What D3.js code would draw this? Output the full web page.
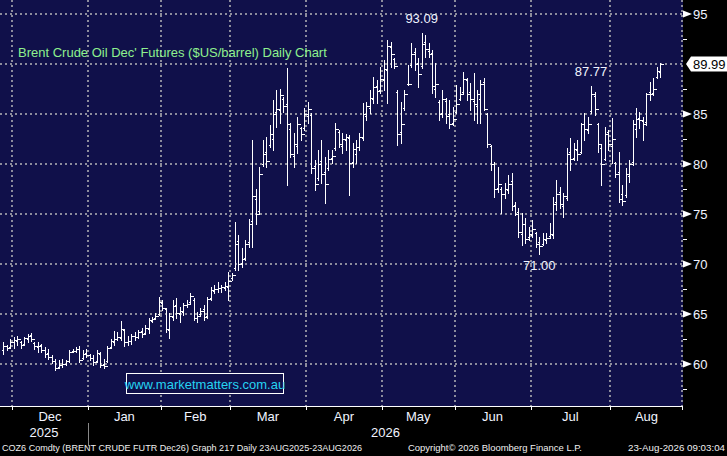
<!DOCTYPE html>
<html>
<head>
<meta charset="utf-8">
<script src="https://cdn.jsdelivr.net/npm/d3@7"></script>
<style>
  html, body { margin: 0; padding: 0; background: #000; }
  svg { display: block; }
</style>
</head>
<body>
<svg id="chart" width="727" height="456"></svg>
<script>
// daily OHLC for Brent Dec26, one entry per trading day (late Nov 2025 -> 21 Aug 2026)
const opens = [
  61.4, 61.8, 61.7, 62.2, 62.3, 62.2, 62.0, 62.5, 62.9, 62.1,
  61.7, 61.9, 61.4, 61.1, 60.7, 60.3, 59.7, 59.9, 60.0, 60.3,
  61.3, 61.3, 61.5, 60.6, 61.1, 60.9, 60.6, 60.3, 61.0, 60.0,
  60.3, 61.7, 62.2, 62.5, 62.6, 63.4, 62.2, 62.3, 62.8, 62.7,
  63.3, 63.1, 63.5, 64.3, 64.6, 65.0, 66.1, 65.5, 63.4, 64.7,
  65.9, 65.0, 65.2, 65.9, 66.2, 66.4, 64.6, 65.0, 65.5, 64.8,
  66.6, 67.3, 67.5, 67.6, 67.6, 67.7, 68.6, 69.6, 72.3, 70.1,
  70.6, 72.2, 74.3, 76.5, 75.3, 80.0, 81.2, 81.9, 82.5, 85.2,
  85.4, 86.5, 86.0, 83.5, 80.8, 81.8, 83.6, 83.6, 84.8, 84.9,
  79.8, 78.6, 80.3, 79.2, 79.6, 80.6, 81.6, 83.2, 81.8, 82.4,
  82.6, 80.2, 81.0, 81.7, 82.6, 84.8, 85.6, 86.5, 87.8, 87.4,
  88.4, 89.4, 91.7, 90.5, 87.2, 83.2, 85.6, 88.0, 89.9, 91.2,
  90.1, 89.8, 92.2, 91.3, 91.1, 87.5, 86.2, 85.1, 86.3, 85.0,
  84.1, 85.2, 86.5, 87.2, 88.4, 87.2, 86.3, 85.8, 86.5, 88.2,
  85.0, 81.8, 80.0, 77.6, 77.5, 77.0, 77.4, 78.3, 75.9, 75.2,
  73.0, 74.0, 72.7, 72.9, 73.1, 72.2, 72.0, 72.4, 72.8, 72.9,
  76.2, 77.2, 75.8, 76.6, 81.2, 80.6, 81.4, 81.2, 84.0, 83.4,
  85.3, 86.8, 84.0, 81.6, 80.5, 83.2, 81.8, 80.1, 79.2, 77.0,
  76.9, 78.8, 80.2, 83.5, 84.6, 84.3, 84.2, 87.2, 87.1, 88.7,
  89.2
];
const highs = [
  62.2, 61.9, 62.5, 62.7, 62.8, 62.3, 62.7, 63.0, 63.1, 62.2,
  62.2, 62.0, 61.7, 61.5, 60.9, 60.5, 60.4, 60.5, 60.4, 61.4,
  61.5, 61.7, 61.8, 61.4, 61.5, 61.0, 60.9, 61.4, 61.2, 60.5,
  61.8, 62.5, 63.3, 63.2, 64.3, 63.5, 62.8, 63.0, 63.2, 63.4,
  63.6, 63.9, 64.6, 64.7, 65.1, 66.7, 66.4, 65.6, 65.1, 66.4,
  66.6, 65.7, 66.1, 66.4, 67.1, 66.6, 65.2, 65.6, 65.9, 66.7,
  67.7, 67.9, 68.2, 67.9, 68.2, 69.2, 69.1, 74.2, 72.9, 71.6,
  72.4, 74.5, 82.4, 77.5, 79.7, 82.4, 82.7, 83.9, 86.4, 87.4,
  87.5, 86.7, 89.6, 84.1, 83.1, 84.7, 83.7, 85.6, 86.2, 85.1,
  80.4, 81.4, 82.4, 80.7, 81.4, 81.4, 84.1, 83.4, 83.1, 83.0,
  82.9, 82.1, 82.4, 83.1, 86.1, 86.2, 87.4, 88.7, 88.4, 89.7,
  90.4, 92.4, 92.2, 90.6, 87.4, 86.2, 87.4, 89.9, 92.1, 91.6,
  90.6, 93.09, 92.9, 92.1, 91.4, 90.1, 86.4, 87.4, 86.6, 86.4,
  85.7, 87.9, 87.7, 89.2, 88.6, 88.1, 89.1, 87.4, 88.4, 88.6,
  85.1, 81.9, 80.2, 79.7, 77.7, 78.1, 78.9, 79.1, 76.2, 75.6,
  75.1, 74.6, 73.7, 74.4, 73.2, 72.7, 73.1, 73.1, 74.1, 76.7,
  78.4, 77.7, 77.1, 81.6, 82.6, 82.1, 82.4, 84.1, 85.1, 84.7,
  87.77, 87.2, 84.1, 81.9, 83.7, 83.4, 84.6, 80.2, 81.2, 77.9,
  79.6, 80.4, 84.4, 85.6, 85.2, 84.7, 87.1, 88.2, 88.6, 89.7,
  90.1
];
const lows = [
  61.0, 61.4, 61.7, 61.6, 61.9, 61.6, 61.9, 62.2, 62.3, 61.5,
  61.2, 61.2, 60.7, 60.5, 60.1, 59.4, 59.6, 59.7, 59.9, 60.2,
  61.2, 61.2, 60.2, 60.5, 60.7, 60.4, 59.9, 60.2, 59.7, 59.6,
  60.2, 61.6, 61.9, 62.4, 62.4, 61.8, 61.9, 62.0, 62.4, 62.6,
  62.7, 63.0, 63.1, 64.2, 64.5, 64.9, 65.4, 63.2, 62.6, 64.4,
  64.6, 64.2, 64.9, 65.7, 66.1, 64.4, 64.2, 64.9, 64.4, 64.6,
  66.4, 67.1, 67.2, 67.2, 67.4, 66.4, 68.4, 69.4, 69.4, 69.7,
  70.4, 71.7, 71.7, 74.0, 75.1, 79.8, 79.7, 81.7, 81.4, 83.7,
  84.1, 85.2, 77.9, 80.7, 79.7, 81.1, 82.4, 83.4, 84.1, 79.1,
  77.4, 78.4, 78.1, 76.1, 79.4, 80.1, 81.4, 81.7, 81.1, 81.4,
  76.9, 79.7, 80.1, 81.4, 82.4, 84.4, 85.1, 86.1, 86.1, 87.1,
  87.4, 86.1, 89.7, 89.6, 81.9, 82.1, 85.4, 87.9, 89.7, 89.4,
  87.7, 89.6, 90.7, 90.7, 87.1, 86.7, 84.4, 84.7, 84.1, 83.6,
  83.9, 85.1, 86.4, 87.1, 86.4, 85.4, 84.4, 84.1, 84.1, 85.4,
  81.7, 79.4, 76.7, 77.2, 75.1, 76.6, 77.1, 75.4, 74.9, 72.7,
  71.9, 72.1, 72.4, 72.7, 71.7, 71.0, 71.9, 72.1, 72.6, 72.6,
  75.4, 75.6, 74.7, 76.4, 79.4, 80.4, 80.4, 81.1, 82.4, 83.1,
  85.1, 84.9, 81.2, 77.9, 80.4, 81.4, 80.1, 78.7, 76.2, 75.9,
  76.7, 78.2, 79.9, 82.7, 83.6, 82.4, 83.9, 86.4, 86.9, 88.6,
  88.7
];
const closes = [
  61.8, 61.6, 62.2, 62.4, 62.5, 61.9, 62.6, 62.8, 62.5, 61.8,
  61.8, 61.4, 61.0, 60.7, 60.3, 59.6, 59.9, 60.0, 60.3, 61.2,
  61.3, 61.5, 60.4, 61.0, 60.9, 60.6, 60.2, 61.1, 59.9, 59.8,
  61.6, 62.3, 62.5, 62.7, 63.5, 62.2, 62.3, 62.8, 62.7, 63.2,
  63.0, 63.6, 64.4, 64.5, 64.8, 66.2, 65.6, 63.5, 64.8, 65.8,
  65.1, 65.3, 65.9, 66.0, 66.8, 64.6, 64.8, 65.3, 64.7, 66.5,
  67.4, 67.5, 67.6, 67.7, 67.8, 68.3, 68.9, 72.0, 70.0, 70.5,
  72.0, 74.0, 76.8, 75.0, 79.0, 81.0, 80.3, 83.0, 85.0, 85.5,
  86.9, 85.8, 84.0, 81.0, 82.0, 84.0, 83.0, 85.0, 85.5, 79.6,
  78.0, 80.0, 79.0, 78.0, 80.5, 80.8, 83.5, 82.0, 82.5, 82.7,
  80.1, 81.5, 81.7, 82.7, 85.0, 85.8, 86.6, 87.7, 87.3, 88.5,
  89.5, 91.8, 91.0, 89.8, 83.0, 84.0, 87.0, 88.0, 91.0, 90.0,
  89.0, 92.0, 91.5, 91.0, 87.8, 88.0, 85.0, 86.5, 84.8, 84.0,
  84.5, 86.0, 87.0, 88.5, 87.0, 86.5, 86.0, 87.0, 88.0, 85.5,
  82.0, 80.0, 77.5, 78.0, 77.0, 77.5, 78.0, 75.8, 75.0, 73.2,
  74.0, 72.5, 73.0, 73.5, 72.0, 71.8, 72.5, 72.6, 73.0, 76.0,
  77.0, 76.0, 76.8, 81.0, 80.5, 81.5, 81.0, 84.0, 83.5, 84.0,
  87.0, 85.5, 82.0, 80.0, 83.0, 82.0, 82.5, 79.0, 76.5, 76.3,
  79.0, 80.0, 84.0, 84.5, 84.4, 84.0, 87.0, 87.0, 87.5, 89.3,
  89.99
];

// first trading day (bar index) of each month, and month labels
const monthStarts = [3, 25, 46, 66, 88, 110, 131, 153, 176];
const monthLabels = ['Dec', 'Jan', 'Feb', 'Mar', 'Apr', 'May', 'Jun', 'Jul', 'Aug'];
const yearLabels = ['2025', '2026'];
const priceTicks = [60, 65, 70, 75, 80, 85, 90, 95];
const minorTicks = [57.5, 62.5, 67.5, 72.5, 77.5, 82.5, 87.5, 92.5];

// labelled highs / lows
const callouts = [
  { idx: 121, value: 93.09, side: 'above' },
  { idx: 170, value: 87.77, side: 'above' },
  { idx: 155, value: 71.00, side: 'below' }
];

const W = 727, H = 456;
const plotR = 683, plotB = 406;
const font = '"Liberation Sans", Arial, sans-serif';
const bg = '#10104a';

const svg = d3.select('#chart');
svg.append('rect').attr('width', W).attr('height', H).attr('fill', '#000');
svg.append('rect').attr('width', plotR).attr('height', plotB).attr('fill', bg);

const x = d3.scaleLinear().domain([-0.98, 196.6]).range([0, plotR]);
const y = d3.scaleLinear().domain([55.8, 96.4]).range([plotB, 0]);
const snap = v => Math.round(v) + 0.5;

// grid
const grid = svg.append('g')
  .attr('stroke', '#8c8c9c').attr('stroke-width', 1.5)
  .attr('stroke-dasharray', '2,3').attr('shape-rendering', 'crispEdges');
grid.selectAll('line.h')
  .data(priceTicks)
  .enter().append('line')
    .attr('class', 'h')
    .attr('x1', 0).attr('x2', plotR)
    .attr('y1', d => Math.round(y(d))).attr('y2', d => Math.round(y(d)));
grid.selectAll('line.v')
  .data(monthStarts.concat([null]))
  .enter().append('line')
    .attr('class', 'v')
    .attr('x1', d => d === null ? plotR - 1 : Math.round(x(d - 0.5)))
    .attr('x2', d => d === null ? plotR - 1 : Math.round(x(d - 0.5)))
    .attr('y1', 0).attr('y2', plotB);

// OHLC bars
const idx = d3.range(closes.length);
svg.append('g')
  .attr('stroke', '#fff').attr('stroke-width', 1).attr('fill', 'none')
  .attr('shape-rendering', 'crispEdges')
  .selectAll('path')
  .data(idx)
  .enter().append('path')
    .attr('d', i => {
      const cx = snap(x(i));
      const yo = snap(y(opens[i])), yc = snap(y(closes[i]));
      return `M${cx},${Math.round(y(highs[i]))}V${Math.round(y(lows[i])) + 1}` +
             `M${cx - 2},${yo}H${cx}M${cx},${yc}H${cx + 3}`;
    });

// callouts
svg.selectAll('text.callout')
  .data(callouts)
  .enter().append('text')
    .attr('class', 'callout')
    .attr('x', d => x(d.idx))
    .attr('y', d => d.side === 'above' ? y(d.value) - 10 : y(d.value) + 16)
    .attr('text-anchor', 'middle')
    .attr('font-family', font).attr('font-size', 13)
    .attr('fill', '#f0f4ff')
    .text(d => d3.format('.2f')(d.value));

// title
svg.append('text')
  .attr('x', 18).attr('y', 57)
  .attr('font-family', font).attr('font-size', 13)
  .attr('fill', '#8ef08e')
  .text("Brent Crude Oil Dec' Futures ($US/barrel) Daily Chart");

// watermark
svg.append('rect')
  .attr('x', 126.5).attr('y', 373.5).attr('width', 157).attr('height', 20)
  .attr('fill', bg).attr('stroke', '#fff').attr('stroke-width', 1);
svg.append('text')
  .attr('x', 205).attr('y', 388.5)
  .attr('text-anchor', 'middle')
  .attr('font-family', font).attr('font-size', 13)
  .attr('fill', '#25d3f2')
  .text('www.marketmatters.com.au');

// bottom axis
const axisB = svg.append('g').attr('shape-rendering', 'crispEdges');
axisB.append('line')
  .attr('x1', 0).attr('x2', plotR)
  .attr('y1', plotB + 0.5).attr('y2', plotB + 0.5)
  .attr('stroke', '#fff');
const bounds = monthStarts.map(d => x(d - 0.5));
axisB.selectAll('line.tick')
  .data(bounds.concat([plotR - 1]))
  .enter().append('line')
    .attr('class', 'tick')
    .attr('x1', d => snap(d)).attr('x2', d => snap(d))
    .attr('y1', plotB).attr('y2', plotB + 4)
    .attr('stroke', '#fff');
const ends = bounds.slice(1).concat([plotR]);
axisB.selectAll('text.month')
  .data(monthLabels)
  .enter().append('text')
    .attr('class', 'month')
    .attr('x', (d, i) => (bounds[i] + ends[i]) / 2)
    .attr('y', 421)
    .attr('text-anchor', 'middle')
    .attr('font-family', font).attr('font-size', 13)
    .attr('fill', '#f0f4ff')
    .text(d => d);

// year row
const yearSpans = [[0, bounds[1]], [bounds[1], plotR]];
axisB.selectAll('text.year')
  .data(yearLabels)
  .enter().append('text')
    .attr('class', 'year')
    .attr('x', (d, i) => (yearSpans[i][0] + yearSpans[i][1]) / 2)
    .attr('y', 437)
    .attr('text-anchor', 'middle')
    .attr('font-family', font).attr('font-size', 13)
    .attr('fill', '#f0f4ff')
    .text(d => d);
axisB.append('line')
  .attr('x1', snap(bounds[1])).attr('x2', snap(bounds[1]))
  .attr('y1', 423).attr('y2', 446)
  .attr('stroke', '#888');

// right price axis
const last = closes[closes.length - 1];
const axisR = svg.append('g');
axisR.selectAll('line.minor')
  .data(minorTicks)
  .enter().append('line')
    .attr('class', 'minor')
    .attr('x1', plotR).attr('x2', plotR + 4)
    .attr('y1', d => snap(y(d))).attr('y2', d => snap(y(d)))
    .attr('stroke', '#fff').attr('shape-rendering', 'crispEdges');
const shown = priceTicks.filter(d => Math.abs(d - last) > 1.5);
axisR.selectAll('path.mark')
  .data(shown)
  .enter().append('path')
    .attr('class', 'mark')
    .attr('d', d => `M${plotR},${y(d) - 3.5}L${plotR + 9},${y(d)}L${plotR},${y(d) + 3.5}Z`)
    .attr('fill', '#fff');
axisR.selectAll('text.price')
  .data(shown)
  .enter().append('text')
    .attr('class', 'price')
    .attr('x', plotR + 10).attr('y', d => y(d) + 4.5)
    .attr('font-family', font).attr('font-size', 13)
    .attr('fill', '#f0f4ff')
    .text(d => d);

// last price flag
const ly = y(last);
axisR.append('path')
  .attr('d', `M${plotR + 3},${ly}L${plotR + 8},${ly - 7.5}H${W}V${ly + 7.5}H${plotR + 8}Z`)
  .attr('fill', '#fff');
axisR.append('text')
  .attr('x', plotR + 10).attr('y', ly + 4.5)
  .attr('font-family', font).attr('font-size', 13)
  .attr('fill', '#000')
  .text(d3.format('.2f')(last));

// footer
const foot = svg.append('g')
  .attr('font-family', font).attr('font-size', 9.5).attr('fill', '#f0f0f0')
  .style('white-space', 'pre');
foot.append('text').attr('x', 2).attr('y', 451)
  .attr('textLength', 360).attr('lengthAdjust', 'spacingAndGlyphs')
  .text('COZ6 Comdty (BRENT CRUDE FUTR  Dec26) Graph 217 Daily 23AUG2025-23AUG2026');
foot.append('text').attr('x', 408).attr('y', 451)
  .attr('textLength', 174).attr('lengthAdjust', 'spacingAndGlyphs')
  .text('Copyright\u00a9 2026 Bloomberg Finance L.P.');
foot.append('text').attr('x', 628).attr('y', 451)
  .attr('textLength', 97).attr('lengthAdjust', 'spacingAndGlyphs')
  .text('23-Aug-2026 09:03:04');
</script>
</body>
</html>
